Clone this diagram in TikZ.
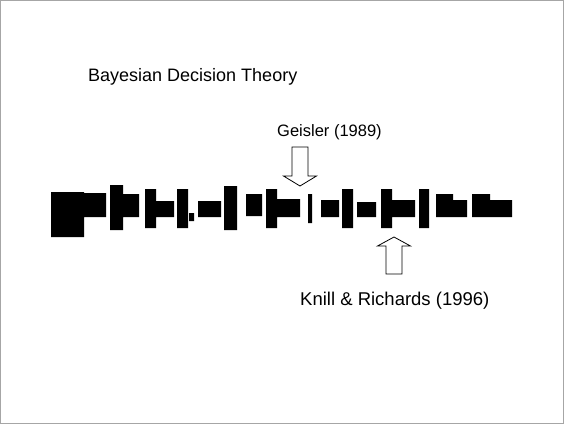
\documentclass[tikz,border=0pt]{standalone}
\usepackage{fontspec}
\setmainfont{Liberation Sans}
\begin{document}
\begin{tikzpicture}[x=1pt,y=-1pt]
    \useasboundingbox (0,0) rectangle (564,424);

    % Frame
    \draw[gray!70, line width=0.8pt] (0.5,0.5) rectangle (563.5,423.5);

    % Title and labels
    \node[anchor=base west, inner sep=0pt, font=\fontsize{18}{20}\selectfont] (title) at (88,81) {Bayesian Decision Theory};
    \node[anchor=base west, inner sep=0pt, font=\fontsize{16.5}{18}\selectfont] (geisler) at (277,136) {Geisler (1989)};
    \node[anchor=base west, inner sep=0pt, font=\fontsize{18.5}{20}\selectfont] (knill) at (300,305) {Knill \& Richards (1996)};

    % The row of black blocks
    \fill (51,192) rectangle (84,237)  (84,193) rectangle (106,217)
          (110,185) rectangle (123,230) (123,194) rectangle (139,217)
          (145,189) rectangle (156,228) (156,201) rectangle (174,217)
          (177,189) rectangle (188,228) (189,213) rectangle (194,221)
          (198,201) rectangle (221,217) (224,186) rectangle (237,230)
          (246,194) rectangle (262,216) (266,189) rectangle (277,228)
          (277,199) rectangle (300,217) (308,194) rectangle (312,223)
          (321,200) rectangle (339,217) (342,189) rectangle (353,228)
          (357,202) rectangle (376,217) (381,189) rectangle (392,228)
          (392,200) rectangle (415,217) (419,189) rectangle (429,228)
          (436,194) rectangle (453,217) (453,200) rectangle (467,217)
          (472,194) rectangle (490,217) (490,200) rectangle (512,217);

    % Hollow arrows
    \draw[line width=0.8pt] (292,147) -- (308,147) -- (308,176) -- (316.5,176)
        -- (300,186) -- (283.5,176) -- (292,176) -- cycle;
    \draw[line width=0.8pt] (386,274) -- (402,274) -- (402,246) -- (410.5,246)
        -- (394,237) -- (377.5,246) -- (386,246) -- cycle;
\end{tikzpicture}
\end{document}
